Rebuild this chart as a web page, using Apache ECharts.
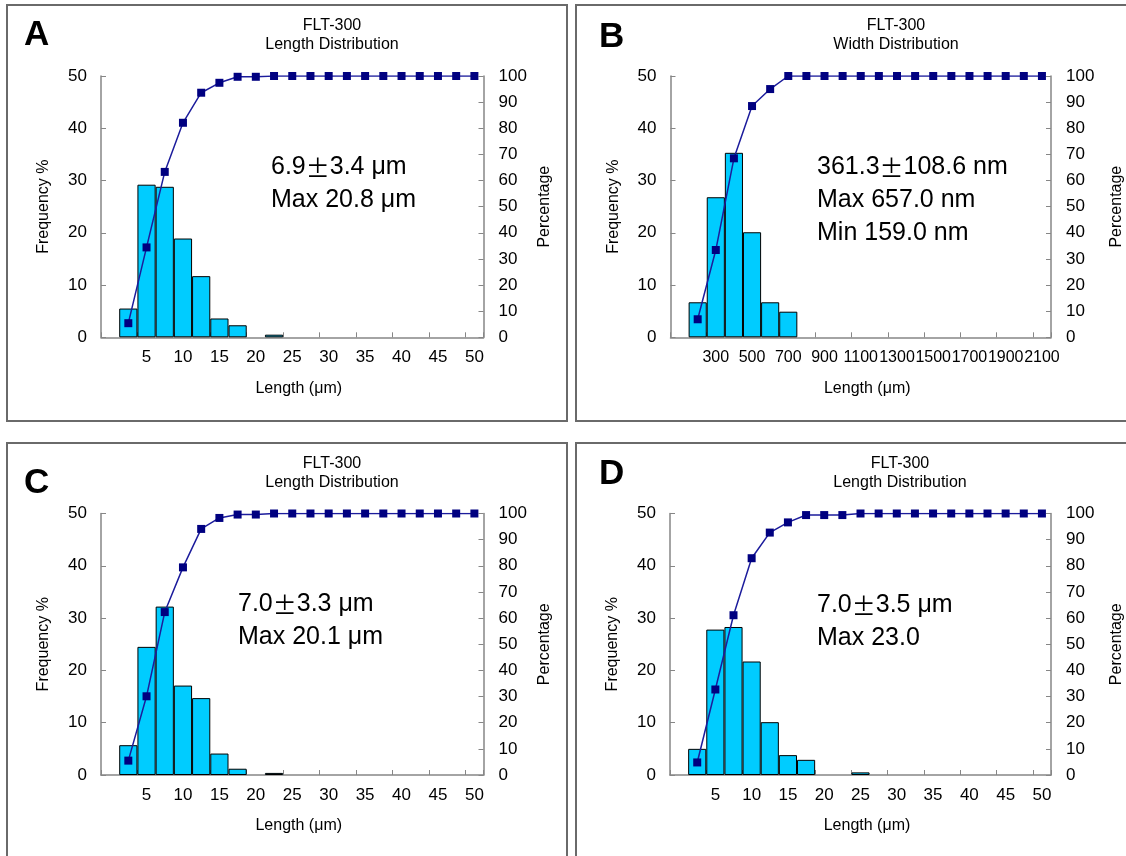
<!DOCTYPE html>
<html>
<head>
<meta charset="utf-8">
<script src="https://cdn.jsdelivr.net/npm/echarts@6/dist/echarts.min.js"></script>
<style>
html,body{margin:0;padding:0;background:#fff;}
#chart{width:1126px;height:856px;}
</style>
</head>
<body>
<div id="chart"></div>
<script>
// ---- tick labels / categories ----
const lengthCats = ['0','2.5','5','7.5','10','12.5','15','17.5','20','22.5','25','27.5','30','32.5','35','37.5','40','42.5','45','47.5','50'];
const widthCats = ['100','200','300','400','500','600','700','800','900','1000','1100','1200','1300','1400','1500','1600','1700','1800','1900','2000','2100'];

// ---- series values (Frequency %, cumulative Percentage) ----
const freqA = [0, 5.5, 29.2, 28.8, 18.9, 11.7, 3.6, 2.3, 0, 0.5, 0, 0, 0, 0, 0, 0, 0, 0, 0, 0, 0];
const cumA  = [null, 5.4, 34.4, 63.3, 82.1, 93.6, 97.4, 99.7, 99.7, 100, 100, 100, 100, 100, 100, 100, 100, 100, 100, 100, 100];

const freqB = [0, 6.7, 26.8, 35.3, 20.1, 6.7, 4.9, 0, 0, 0, 0, 0, 0, 0, 0, 0, 0, 0, 0, 0, 0];
const cumB  = [null, 6.9, 33.4, 68.5, 88.5, 95.0, 100, 100, 100, 100, 100, 100, 100, 100, 100, 100, 100, 100, 100, 100, 100];

const freqC = [0, 5.7, 24.5, 32.2, 17.1, 14.7, 4.1, 1.2, 0, 0.4, 0, 0, 0, 0, 0, 0, 0, 0, 0, 0, 0];
const cumC  = [null, 5.5, 30.1, 62.3, 79.4, 94.1, 98.3, 99.6, 99.6, 100, 100, 100, 100, 100, 100, 100, 100, 100, 100, 100, 100];

const freqD = [0, 5.0, 27.8, 28.3, 21.7, 10.1, 3.8, 2.9, 0, 0, 0.5, 0, 0, 0, 0, 0, 0, 0, 0, 0, 0];
const cumD  = [null, 4.8, 32.7, 61.1, 82.9, 92.7, 96.6, 99.4, 99.4, 99.4, 100, 100, 100, 100, 100, 100, 100, 100, 100, 100, 100];

// ---- texts ----
const panelLetters = ['A', 'B', 'C', 'D'];
const titleLine1 = ['FLT-300', 'FLT-300', 'FLT-300', 'FLT-300'];
const titleLine2 = ['Length Distribution', 'Width Distribution', 'Length Distribution', 'Length Distribution'];
const statsLines = [
  ['6.9', '3.4 μm', 'Max 20.8 μm'],
  ['361.3', '108.6 nm', 'Max 657.0 nm', 'Min 159.0 nm'],
  ['7.0', '3.3 μm', 'Max 20.1 μm'],
  ['7.0', '3.5 μm', 'Max 23.0']
];

// ---- layout ----
const FONT = "'Liberation Sans', Arial, sans-serif";
const grids = [
  {left: 101, top: 76, width: 382.5, height: 261.3},
  {left: 670.5, top: 76, width: 381.5, height: 261.3},
  {left: 101, top: 513.5, width: 382.5, height: 261.5},
  {left: 670, top: 513.5, width: 382, height: 261.5}
];
const boxes = [
  {x: 7, y: 5, width: 560, height: 416},
  {x: 576, y: 5, width: 570, height: 416},
  {x: 7, y: 443, width: 560, height: 440},
  {x: 576, y: 443, width: 570, height: 440}
];
const letterPos = [[24, 18], [599, 20], [24, 466], [599, 457]];
const titlePos = [[332, 16.5], [896, 16.5], [332, 454], [900, 454]];
const statsPos = [[271, 151], [817, 151], [238, 588], [817, 589]];
const xLabelSize = [17, 16, 17, 17];

const panels = [
  {cats: lengthCats, freq: freqA, cum: cumA},
  {cats: widthCats, freq: freqB, cum: cumB},
  {cats: lengthCats, freq: freqC, cum: cumC},
  {cats: lengthCats, freq: freqD, cum: cumD}
];

const axisGray = '#868686';
const option = {
  backgroundColor: '#fff',
  animation: false,
  grid: grids,
  xAxis: [], yAxis: [], series: [],
  graphic: []
};

panels.forEach((p, i) => {
  option.xAxis.push({
    type: 'category', gridIndex: i, data: p.cats, boundaryGap: true,
    name: 'Length (μm)', nameLocation: 'middle', nameGap: 43,
    nameTextStyle: {fontFamily: FONT, fontSize: 16, color: '#000', padding: [0, 0, 0, 13]},
    axisLine: {show: true, lineStyle: {color: axisGray, width: 1.5}},
    axisTick: {show: true, inside: true, length: 5, interval: (idx) => idx % 2 === 0, lineStyle: {color: axisGray}},
    axisLabel: {interval: (idx) => idx > 0 && idx % 2 === 0, hideOverlap: false, showMaxLabel: true,
      fontFamily: FONT, fontSize: xLabelSize[i], color: '#000', margin: 12},
    splitLine: {show: false}
  });
  option.yAxis.push({
    type: 'value', gridIndex: i, min: 0, max: 50, interval: 10, position: 'left',
    name: 'Frequency %', nameLocation: 'middle', nameGap: 49, nameRotate: 90,
    nameTextStyle: {fontFamily: FONT, fontSize: 16, color: '#000'},
    axisLine: {show: true, lineStyle: {color: axisGray, width: 1.5}},
    axisTick: {show: true, inside: true, length: 5, lineStyle: {color: axisGray}},
    axisLabel: {fontFamily: FONT, fontSize: 17, color: '#000', margin: 14},
    splitLine: {show: false}
  });
  option.yAxis.push({
    type: 'value', gridIndex: i, min: 0, max: 100, interval: 10, position: 'right',
    name: 'Percentage', nameLocation: 'middle', nameGap: i % 2 === 0 ? 53 : 58, nameRotate: 90,
    nameTextStyle: {fontFamily: FONT, fontSize: 16, color: '#000'},
    axisLine: {show: true, lineStyle: {color: axisGray, width: 1.5}},
    axisTick: {show: true, inside: true, length: 5, lineStyle: {color: axisGray}},
    axisLabel: {fontFamily: FONT, fontSize: 17, color: '#000', margin: 15},
    splitLine: {show: false}
  });
  option.series.push({
    type: 'bar', xAxisIndex: i, yAxisIndex: 2 * i,
    data: p.freq.map(v => (v === 0 ? '-' : v)),
    barCategoryGap: 0,
    itemStyle: {color: '#00CCFF', borderColor: '#000', borderWidth: 1},
    z: 2
  });
  option.series.push({
    type: 'line', xAxisIndex: i, yAxisIndex: 2 * i + 1,
    data: p.cum,
    symbol: 'rect', symbolSize: 8, showSymbol: true,
    itemStyle: {color: '#000080'},
    lineStyle: {color: '#1c1c9c', width: 1.5},
    z: 5
  });

  // frame
  option.graphic.push({
    type: 'rect', shape: boxes[i], silent: true,
    style: {fill: 'none', stroke: '#6a6a6a', lineWidth: 2}
  });
  // letter
  option.graphic.push({
    type: 'text', x: letterPos[i][0], y: letterPos[i][1], silent: true,
    style: {text: panelLetters[i], font: "bold 35px 'Liberation Sans', Arial, sans-serif", fill: '#000'}
  });
  // title
  option.graphic.push({
    type: 'text', x: titlePos[i][0], y: titlePos[i][1], silent: true,
    style: {text: titleLine1[i] + '\n' + titleLine2[i], fontFamily: FONT, fontSize: 16, lineHeight: 19,
      fill: '#000', align: 'center', verticalAlign: 'top'}
  });
  // stats annotation
  const s = statsLines[i];
  let txt = '{a|' + s[0] + '}{p|±}{a|' + s[1] + '}';
  for (let k = 2; k < s.length; k++) txt += '\n{a|' + s[k] + '}';
  option.graphic.push({
    type: 'text', x: statsPos[i][0], y: statsPos[i][1], silent: true, z: 10,
    style: {
      text: txt, fill: '#000',
      rich: {
        a: {fontFamily: FONT, fontSize: 25, lineHeight: 33, fill: '#000'},
        p: {fontFamily: "'Noto Sans CJK JP', sans-serif", fontSize: 24, lineHeight: 33, fill: '#000'}
      }
    }
  });
});

const chart = echarts.init(document.getElementById('chart'), null, {renderer: 'canvas'});
chart.setOption(option);
</script>
</body>
</html>
